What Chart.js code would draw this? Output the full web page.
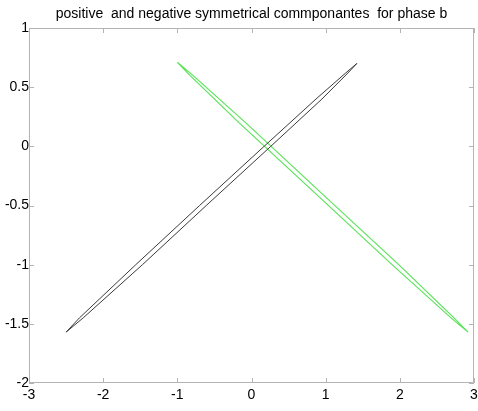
<!DOCTYPE html>
<html>
<head>
<meta charset="utf-8">
<script src="https://cdn.jsdelivr.net/npm/chart.js@4.4.0/dist/chart.umd.min.js"></script>
<style>
  html, body { margin:0; padding:0; background:#fff; }
  #wrap { width:478px; height:411px; }
</style>
</head>
<body>
<div id="wrap"><canvas id="plot"></canvas></div>
<script>
const titleText = "positive  and negative symmetrical commponantes  for phase b";

// closed thin loops
const blackX = [-2.50, -2.32, -1.56, -0.70, 0.17, 0.87, 1.27, 1.42, 1.30, 0.95, 0.26, -0.61, -1.47, -2.27, -2.50];
const blackY = [-1.57, -1.45, -1.00, -0.50, 0.00, 0.40, 0.62, 0.70, 0.62, 0.40, 0.00, -0.50, -1.00, -1.45, -1.57];

const greenX = [-1.00, -0.79, -0.08, 0.95, 1.985, 2.73, 2.92, 2.69, 1.895, 0.865, -0.17, -0.83, -1.00];
const greenY = [0.71, 0.60, 0.20, -0.40, -1.00, -1.45, -1.57, -1.45, -1.00, -0.40, 0.20, 0.60, 0.71];

const xTicks = [-3, -2, -1, 0, 1, 2, 3];
const yTicks = [1, 0.5, 0, -0.5, -1, -1.5, -2];

function pts(xs, ys){
    return xs.map((x,i)=>({x:x, y:ys[i]}));
}

// matlab style box with inward ticks on all four sides
const boxTicks = {
    id:"boxTicks",
    afterDraw(chart){
        const ctx = chart.ctx;
        const a = chart.chartArea;
        const sx = chart.scales.x, sy = chart.scales.y;
        ctx.save();
        ctx.strokeStyle = "#b4b4b4";
        ctx.lineWidth = 1;
        ctx.beginPath();
        ctx.rect(a.left+0.5, a.top+0.5, a.right-a.left-1, a.bottom-a.top-1);
        xTicks.forEach(v=>{
            const px = Math.round(sx.getPixelForValue(v))+0.5;
            ctx.moveTo(px, a.bottom); ctx.lineTo(px, a.bottom-5);
            ctx.moveTo(px, a.top); ctx.lineTo(px, a.top+5);
        });
        yTicks.forEach(v=>{
            const py = Math.round(sy.getPixelForValue(v))+0.5;
            ctx.moveTo(a.left, py); ctx.lineTo(a.left+5, py);
            ctx.moveTo(a.right, py); ctx.lineTo(a.right-5, py);
        });
        ctx.stroke();
        ctx.restore();
    }
};

new Chart(document.getElementById("plot"),{
    type:"scatter",
    data:{
        datasets:[
            {
                label:"positive",
                data:pts(blackX, blackY),
                showLine:true,
                borderColor:"#3a3a3a",
                borderWidth:1,
                pointRadius:0,
                pointHoverRadius:0,
                tension:0,
                fill:false
            },
            {
                label:"negative",
                data:pts(greenX, greenY),
                showLine:true,
                borderColor:"#5ce35c",
                borderWidth:1.2,
                pointRadius:0,
                pointHoverRadius:0,
                tension:0,
                fill:false
            }
        ]
    },
    options:{
        responsive:true,
        maintainAspectRatio:false,
        animation:false,
        layout:{ autoPadding:false, padding:{ left:0, right:4, top:0, bottom:0 } },
        plugins:{
            legend:{ display:false },
            tooltip:{ enabled:false },
            title:{
                display:true,
                text:titleText,
                fullSize:false,
                color:"#000",
                font:{ family:"Liberation Sans, Arial", size:14, weight:"normal" },
                padding:{ top:6, bottom:5.2 }
            }
        },
        scales:{
            x:{
                type:"linear",
                min:-3,
                max:3,
                afterBuildTicks(s){ s.ticks = xTicks.map(v=>({value:v})); },
                afterFit(s){ s.height = 28; s.paddingLeft = 0; s.paddingRight = 0; },
                grid:{ display:false, drawTicks:false },
                border:{ display:false },
                ticks:{
                    color:"#000",
                    padding:4,
                    maxRotation:0,
                    font:{ family:"Liberation Sans, Arial", size:14 }
                }
            },
            y:{
                type:"linear",
                min:-2,
                max:1,
                afterBuildTicks(s){ s.ticks = yTicks.map(v=>({value:v})); },
                afterFit(s){ s.width = 29; },
                grid:{ display:false, drawTicks:false },
                border:{ display:false },
                ticks:{
                    color:"#000",
                    padding:0,
                    font:{ family:"Liberation Sans, Arial", size:14 },
                    callback:(v)=>String(v)
                }
            }
        }
    },
    plugins:[boxTicks]
});
</script>
</body>
</html>
